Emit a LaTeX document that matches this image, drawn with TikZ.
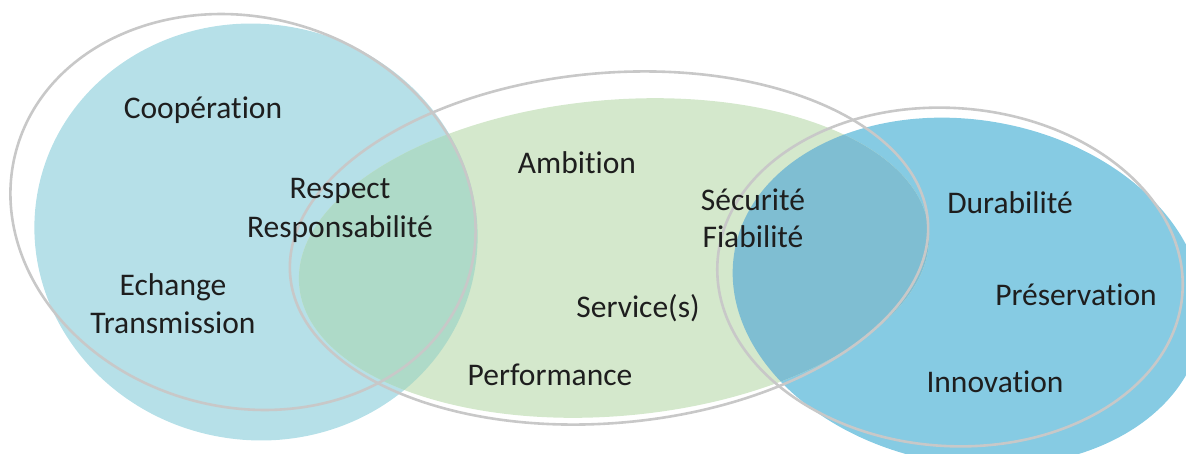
\documentclass[tikz,border=0pt]{standalone}
\usepackage{fontspec}
\setmainfont[Ligatures={NoCommon,NoRare,NoContextual}]{Carlito}
\definecolor{lblue}{HTML}{B6E0E8}
\definecolor{lgreen}{HTML}{D4E8CC}
\definecolor{rblue}{HTML}{86CBE3}
\definecolor{ovlg}{HTML}{AEDAC8}
\definecolor{ovgr}{HTML}{7FBED2}
\definecolor{ring}{HTML}{C8C8C8}
\definecolor{txt}{HTML}{1E1E1E}
\begin{document}
\begin{tikzpicture}[x=1pt,y=-1pt,
  lbl/.style={font=\fontsize{31.5}{38}\selectfont, text=txt, inner sep=0pt, anchor=base},
  ringline/.style={draw=ring, line width=2.6pt}]
\useasboundingbox (0,0) rectangle (1186,453);
% filled blobs
\fill[lblue, rotate around={-10:(256,232)}] (256,232) ellipse [x radius=222pt, y radius=208pt];
\fill[rblue, rotate around={-10:(968,292)}] (968,292) ellipse [x radius=237pt, y radius=172pt];
\fill[lgreen, rotate around={5:(614,258)}] (614,258) ellipse [x radius=316pt, y radius=158pt];
% overlaps
\begin{scope}
  \clip[rotate around={5:(614,258)}] (614,258) ellipse [x radius=316pt, y radius=158pt];
  \fill[ovlg, rotate around={-10:(256,232)}] (256,232) ellipse [x radius=222pt, y radius=208pt];
  \fill[ovgr, rotate around={-10:(968,292)}] (968,292) ellipse [x radius=237pt, y radius=172pt];
\end{scope}
% outlines
\draw[ringline, rotate around={-15:(243,212)}] (243,212) ellipse [x radius=235pt, y radius=195pt];
\draw[ringline, rotate around={5:(609,248)}] (609,248) ellipse [x radius=320pt, y radius=175pt];
\draw[ringline, rotate around={-4:(950,277)}] (950,277) ellipse [x radius=233pt, y radius=169pt];
% labels
\node[lbl] (coop) at (203,118) {Coopération};
\node[lbl] (resp) at (340,198) {Respect};
\node[lbl] (respo) at (340,237) {Responsabilité};
\node[lbl] (ech) at (173,295) {Echange};
\node[lbl] (trans) at (173,333) {Transmission};
\node[lbl] (amb) at (577,173) {Ambition};
\node[lbl] (sec) at (753,210) {Sécurité};
\node[lbl] (fia) at (753,247) {Fiabilité};
\node[lbl] (serv) at (638,317) {Service(s)};
\node[lbl] (perf) at (550,385) {Performance};
\node[lbl] (dur) at (1010,213) {Durabilité};
\node[lbl] (pres) at (1076,305) {Préservation};
\node[lbl] (inno) at (995,392) {Innovation};
\end{tikzpicture}
\end{document}
